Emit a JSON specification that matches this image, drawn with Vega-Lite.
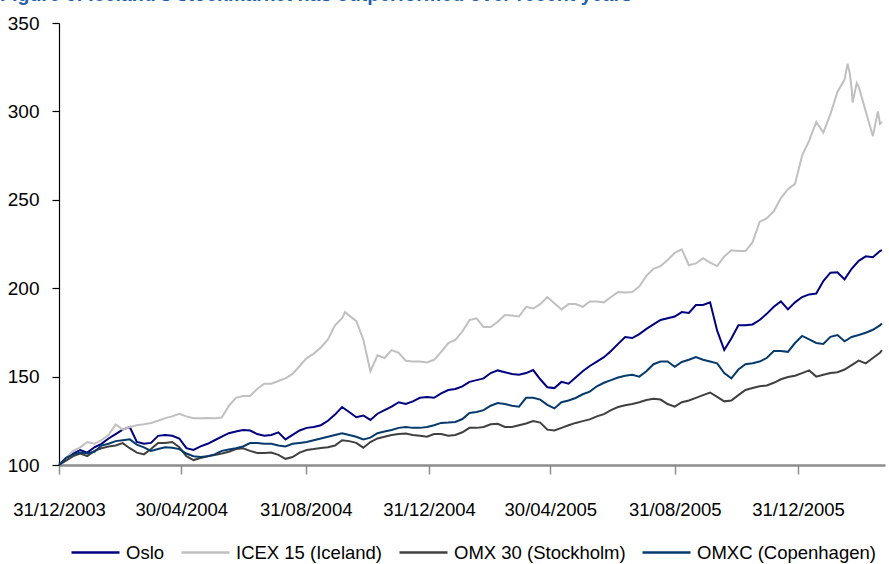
{
  "$schema": "https://vega.github.io/schema/vega-lite/v6.json",
  "width": 826,
  "height": 442,
  "autosize": {"type": "none"},
  "padding": {"left": 59, "top": 23, "right": 4, "bottom": 99},
  "background": "white",
  "title": {
    "text": "Figure 6: Iceland's stockmarket has outperformed over recent years",
    "anchor": "start",
    "frame": "group",
    "font": "Liberation Sans",
    "fontSize": 19.6,
    "fontWeight": "bold",
    "color": "#1F5FAE",
    "baseline": "alphabetic",
    "dx": -59,
    "dy": 13,
    "offset": 6
  },
  "config": {
    "view": {"stroke": null},
    "font": "Liberation Sans, Arial, sans-serif"
  },
  "data": {
    "values": [
      {"date": "2003-12-31", "Oslo": 100, "ICEX": 100, "OMX30": 100, "OMXC": 100},
      {"date": "2004-01-07", "Oslo": 104, "ICEX": 104, "OMX30": 102.5, "OMXC": 104},
      {"date": "2004-01-14", "Oslo": 106.5, "ICEX": 108, "OMX30": 105, "OMXC": 106},
      {"date": "2004-01-21", "Oslo": 108.5, "ICEX": 110, "OMX30": 106.5, "OMXC": 107},
      {"date": "2004-01-28", "Oslo": 107, "ICEX": 113, "OMX30": 105, "OMXC": 106.5},
      {"date": "2004-02-04", "Oslo": 110, "ICEX": 112, "OMX30": 108, "OMXC": 107.5},
      {"date": "2004-02-11", "Oslo": 112, "ICEX": 114, "OMX30": 109.5, "OMXC": 111},
      {"date": "2004-02-18", "Oslo": 115, "ICEX": 117, "OMX30": 110.5, "OMXC": 112},
      {"date": "2004-02-25", "Oslo": 117.5, "ICEX": 123, "OMX30": 111, "OMXC": 113.5},
      {"date": "2004-03-03", "Oslo": 120, "ICEX": 120, "OMX30": 112.4, "OMXC": 114},
      {"date": "2004-03-10", "Oslo": 121.5, "ICEX": 121.5, "OMX30": 109.5, "OMXC": 114.5},
      {"date": "2004-03-17", "Oslo": 113, "ICEX": 122.5, "OMX30": 107, "OMXC": 111.5},
      {"date": "2004-03-24", "Oslo": 112, "ICEX": 123, "OMX30": 106, "OMXC": 110},
      {"date": "2004-03-31", "Oslo": 112.5, "ICEX": 123.8, "OMX30": 109, "OMXC": 108},
      {"date": "2004-04-07", "Oslo": 116.5, "ICEX": 125, "OMX30": 112.5, "OMXC": 109},
      {"date": "2004-04-14", "Oslo": 117, "ICEX": 126.5, "OMX30": 112.4, "OMXC": 110},
      {"date": "2004-04-21", "Oslo": 116.5, "ICEX": 127.5, "OMX30": 113, "OMXC": 109.8},
      {"date": "2004-04-28", "Oslo": 115, "ICEX": 129, "OMX30": 110, "OMXC": 109},
      {"date": "2004-05-05", "Oslo": 109.5, "ICEX": 127.5, "OMX30": 105, "OMXC": 106.5},
      {"date": "2004-05-12", "Oslo": 108.5, "ICEX": 126.5, "OMX30": 102.8, "OMXC": 105},
      {"date": "2004-05-19", "Oslo": 110.5, "ICEX": 126.5, "OMX30": 104, "OMXC": 104.5},
      {"date": "2004-05-26", "Oslo": 112, "ICEX": 126.6, "OMX30": 105, "OMXC": 105},
      {"date": "2004-06-02", "Oslo": 114, "ICEX": 126.5, "OMX30": 105.7, "OMXC": 106},
      {"date": "2004-06-09", "Oslo": 116, "ICEX": 126.8, "OMX30": 106.5, "OMXC": 108},
      {"date": "2004-06-16", "Oslo": 118, "ICEX": 133.5, "OMX30": 107.5, "OMXC": 108.8},
      {"date": "2004-06-23", "Oslo": 119, "ICEX": 138, "OMX30": 109, "OMXC": 109.5},
      {"date": "2004-06-30", "Oslo": 119.8, "ICEX": 139, "OMX30": 109.5, "OMXC": 110.5},
      {"date": "2004-07-07", "Oslo": 119.5, "ICEX": 139, "OMX30": 108, "OMXC": 112.4},
      {"date": "2004-07-14", "Oslo": 117.5, "ICEX": 143, "OMX30": 106.8, "OMXC": 112.4},
      {"date": "2004-07-21", "Oslo": 116.5, "ICEX": 146, "OMX30": 106.8, "OMXC": 112},
      {"date": "2004-07-28", "Oslo": 117, "ICEX": 146, "OMX30": 107, "OMXC": 112},
      {"date": "2004-08-04", "Oslo": 118.5, "ICEX": 147.5, "OMX30": 105.7, "OMXC": 111},
      {"date": "2004-08-11", "Oslo": 114.5, "ICEX": 149, "OMX30": 103.5, "OMXC": 110.5},
      {"date": "2004-08-18", "Oslo": 117, "ICEX": 151.5, "OMX30": 104.5, "OMXC": 112},
      {"date": "2004-08-25", "Oslo": 119.5, "ICEX": 156, "OMX30": 107, "OMXC": 112.5},
      {"date": "2004-09-01", "Oslo": 121, "ICEX": 160.5, "OMX30": 108.5, "OMXC": 113},
      {"date": "2004-09-08", "Oslo": 121.5, "ICEX": 163, "OMX30": 109, "OMXC": 114},
      {"date": "2004-09-15", "Oslo": 122.5, "ICEX": 166.5, "OMX30": 109.6, "OMXC": 115},
      {"date": "2004-09-22", "Oslo": 125, "ICEX": 171, "OMX30": 110, "OMXC": 116},
      {"date": "2004-09-29", "Oslo": 128.5, "ICEX": 179, "OMX30": 111, "OMXC": 117},
      {"date": "2004-10-06", "Oslo": 132.8, "ICEX": 183, "OMX30": 114, "OMXC": 118},
      {"date": "2004-10-09", "ICEX": 186.5},
      {"date": "2004-10-13", "Oslo": 130, "ICEX": 184.5, "OMX30": 113.5, "OMXC": 117},
      {"date": "2004-10-20", "Oslo": 127, "ICEX": 181.5, "OMX30": 112.5, "OMXC": 116},
      {"date": "2004-10-27", "Oslo": 128, "ICEX": 171, "OMX30": 109.8, "OMXC": 114.5},
      {"date": "2004-11-03", "Oslo": 125.5, "ICEX": 153, "OMX30": 113, "OMXC": 115.5},
      {"date": "2004-11-10", "Oslo": 129, "ICEX": 162, "OMX30": 115, "OMXC": 118},
      {"date": "2004-11-17", "Oslo": 131, "ICEX": 160.5, "OMX30": 116, "OMXC": 119},
      {"date": "2004-11-24", "Oslo": 133, "ICEX": 165, "OMX30": 117, "OMXC": 119.8},
      {"date": "2004-12-01", "Oslo": 135.5, "ICEX": 163.5, "OMX30": 117.5, "OMXC": 121},
      {"date": "2004-12-08", "Oslo": 134.5, "ICEX": 159, "OMX30": 117.8, "OMXC": 121.5},
      {"date": "2004-12-15", "Oslo": 136, "ICEX": 158.5, "OMX30": 117, "OMXC": 121},
      {"date": "2004-12-22", "Oslo": 138, "ICEX": 158.5, "OMX30": 116.5, "OMXC": 121},
      {"date": "2004-12-29", "Oslo": 138.5, "ICEX": 158, "OMX30": 116, "OMXC": 121.5},
      {"date": "2005-01-05", "Oslo": 138, "ICEX": 159.5, "OMX30": 117.5, "OMXC": 122.5},
      {"date": "2005-01-12", "Oslo": 140.5, "ICEX": 164, "OMX30": 117.5, "OMXC": 123.8},
      {"date": "2005-01-19", "Oslo": 142.4, "ICEX": 169, "OMX30": 116.5, "OMXC": 124},
      {"date": "2005-01-26", "Oslo": 143, "ICEX": 170.7, "OMX30": 117, "OMXC": 124.3},
      {"date": "2005-02-02", "Oslo": 144.5, "ICEX": 175.5, "OMX30": 118.5, "OMXC": 126},
      {"date": "2005-02-09", "Oslo": 147, "ICEX": 182, "OMX30": 121, "OMXC": 129.4},
      {"date": "2005-02-16", "Oslo": 148, "ICEX": 183, "OMX30": 121, "OMXC": 130},
      {"date": "2005-02-23", "Oslo": 149, "ICEX": 178, "OMX30": 121.5, "OMXC": 131},
      {"date": "2005-03-02", "Oslo": 152, "ICEX": 178, "OMX30": 123, "OMXC": 133.5},
      {"date": "2005-03-09", "Oslo": 153.5, "ICEX": 181, "OMX30": 123.3, "OMXC": 135},
      {"date": "2005-03-16", "Oslo": 152.5, "ICEX": 184.8, "OMX30": 121.5, "OMXC": 134.5},
      {"date": "2005-03-23", "Oslo": 151.5, "ICEX": 184.5, "OMX30": 121.5, "OMXC": 133.5},
      {"date": "2005-03-30", "Oslo": 151, "ICEX": 184, "OMX30": 122.5, "OMXC": 133},
      {"date": "2005-04-06", "Oslo": 152, "ICEX": 189.5, "OMX30": 123.5, "OMXC": 138},
      {"date": "2005-04-13", "Oslo": 153.7, "ICEX": 188.5, "OMX30": 124.9, "OMXC": 138},
      {"date": "2005-04-20", "Oslo": 148.5, "ICEX": 191, "OMX30": 124, "OMXC": 137},
      {"date": "2005-04-27", "Oslo": 144, "ICEX": 195, "OMX30": 120, "OMXC": 134},
      {"date": "2005-05-04", "Oslo": 143.5, "ICEX": 191.5, "OMX30": 119.5, "OMXC": 132},
      {"date": "2005-05-11", "Oslo": 147, "ICEX": 188, "OMX30": 121, "OMXC": 135.5},
      {"date": "2005-05-18", "Oslo": 146, "ICEX": 191, "OMX30": 122.5, "OMXC": 136.5},
      {"date": "2005-05-25", "Oslo": 149.5, "ICEX": 191, "OMX30": 123.8, "OMXC": 137.9},
      {"date": "2005-06-01", "Oslo": 153, "ICEX": 189.5, "OMX30": 124.8, "OMXC": 140},
      {"date": "2005-06-08", "Oslo": 156, "ICEX": 192.5, "OMX30": 125.8, "OMXC": 141.5},
      {"date": "2005-06-15", "Oslo": 158.5, "ICEX": 192.5, "OMX30": 127.5, "OMXC": 144.5},
      {"date": "2005-06-22", "Oslo": 161, "ICEX": 192, "OMX30": 128.8, "OMXC": 146.5},
      {"date": "2005-06-29", "Oslo": 164.5, "ICEX": 195, "OMX30": 131, "OMXC": 148},
      {"date": "2005-07-06", "Oslo": 168.5, "ICEX": 197.8, "OMX30": 132.8, "OMXC": 149.5},
      {"date": "2005-07-13", "Oslo": 172.4, "ICEX": 197.5, "OMX30": 133.8, "OMXC": 150.5},
      {"date": "2005-07-20", "Oslo": 171.8, "ICEX": 197.8, "OMX30": 134.5, "OMXC": 151},
      {"date": "2005-07-27", "Oslo": 174, "ICEX": 201, "OMX30": 135.5, "OMXC": 150},
      {"date": "2005-08-03", "Oslo": 177, "ICEX": 207, "OMX30": 136.8, "OMXC": 153},
      {"date": "2005-08-10", "Oslo": 179.5, "ICEX": 211, "OMX30": 137.5, "OMXC": 157},
      {"date": "2005-08-17", "Oslo": 182, "ICEX": 212.5, "OMX30": 137, "OMXC": 158.5},
      {"date": "2005-08-24", "Oslo": 183, "ICEX": 216, "OMX30": 134.5, "OMXC": 158.5},
      {"date": "2005-08-31", "Oslo": 184, "ICEX": 220, "OMX30": 133, "OMXC": 155.5},
      {"date": "2005-09-07", "Oslo": 186.5, "ICEX": 222, "OMX30": 135.5, "OMXC": 158.3},
      {"date": "2005-09-14", "Oslo": 186, "ICEX": 213, "OMX30": 136.5, "OMXC": 159.5},
      {"date": "2005-09-21", "Oslo": 190.5, "ICEX": 214, "OMX30": 138, "OMXC": 161},
      {"date": "2005-09-28", "Oslo": 190.5, "ICEX": 217, "OMX30": 139.5, "OMXC": 159.5},
      {"date": "2005-10-05", "Oslo": 192, "ICEX": 214.5, "OMX30": 141, "OMXC": 158.5},
      {"date": "2005-10-12", "Oslo": 176, "ICEX": 212.5, "OMX30": 138.5, "OMXC": 157.5},
      {"date": "2005-10-19", "Oslo": 165, "ICEX": 218, "OMX30": 136, "OMXC": 152},
      {"date": "2005-10-26", "Oslo": 171.5, "ICEX": 221.5, "OMX30": 136.5, "OMXC": 149},
      {"date": "2005-11-02", "Oslo": 179, "ICEX": 221, "OMX30": 139.5, "OMXC": 154},
      {"date": "2005-11-09", "Oslo": 179, "ICEX": 221, "OMX30": 142.4, "OMXC": 157},
      {"date": "2005-11-16", "Oslo": 179.5, "ICEX": 226, "OMX30": 143.5, "OMXC": 157.5},
      {"date": "2005-11-23", "Oslo": 182, "ICEX": 237.5, "OMX30": 144.5, "OMXC": 158.5},
      {"date": "2005-11-30", "Oslo": 185.5, "ICEX": 239.5, "OMX30": 145, "OMXC": 160.5},
      {"date": "2005-12-07", "Oslo": 189.5, "ICEX": 243.5, "OMX30": 146.5, "OMXC": 164.5},
      {"date": "2005-12-14", "Oslo": 192.5, "ICEX": 251, "OMX30": 148.5, "OMXC": 164.5},
      {"date": "2005-12-21", "Oslo": 188, "ICEX": 256, "OMX30": 149.8, "OMXC": 164},
      {"date": "2005-12-28", "Oslo": 192, "ICEX": 259, "OMX30": 150.5, "OMXC": 169},
      {"date": "2006-01-04", "Oslo": 195, "ICEX": 275, "OMX30": 152, "OMXC": 173},
      {"date": "2006-01-11", "Oslo": 196.5, "ICEX": 283.5, "OMX30": 153.5, "OMXC": 171},
      {"date": "2006-01-18", "Oslo": 197, "ICEX": 294, "OMX30": 150, "OMXC": 169},
      {"date": "2006-01-25", "Oslo": 204, "ICEX": 288, "OMX30": 151, "OMXC": 168.5},
      {"date": "2006-02-01", "Oslo": 208.8, "ICEX": 298.5, "OMX30": 152, "OMXC": 172.5},
      {"date": "2006-02-08", "Oslo": 209, "ICEX": 311, "OMX30": 152.5, "OMXC": 173.5},
      {"date": "2006-02-15", "Oslo": 205, "ICEX": 318, "OMX30": 154, "OMXC": 170},
      {"date": "2006-02-18", "ICEX": 327},
      {"date": "2006-02-20", "ICEX": 322},
      {"date": "2006-02-22", "Oslo": 211, "ICEX": 313, "OMX30": 156.5, "OMXC": 172.4},
      {"date": "2006-02-23", "ICEX": 305},
      {"date": "2006-02-27", "ICEX": 316},
      {"date": "2006-03-01", "Oslo": 215.5, "ICEX": 314, "OMX30": 159, "OMXC": 173.5},
      {"date": "2006-03-08", "Oslo": 218, "ICEX": 300, "OMX30": 157.5, "OMXC": 174.8},
      {"date": "2006-03-15", "Oslo": 217.5, "ICEX": 286, "OMX30": 160.5, "OMXC": 176.5},
      {"date": "2006-03-20", "ICEX": 300},
      {"date": "2006-03-22", "Oslo": 221, "ICEX": 293, "OMX30": 163.5, "OMXC": 179},
      {"date": "2006-03-24", "Oslo": 221.6, "ICEX": 294, "OMX30": 165, "OMXC": 180}
    ]
  },
  "transform": [
    {"fold": ["Oslo", "ICEX", "OMX30", "OMXC"], "as": ["index", "level"]},
    {"filter": "isValid(datum.level)"}
  ],
  "mark": {"type": "line", "strokeWidth": 2, "interpolate": "linear"},
  "encoding": {
    "x": {
      "field": "date",
      "type": "temporal",
      "scale": {
        "type": "utc",
        "domain": [
          {"year": 2003, "month": 12, "date": 31, "utc": true},
          {"year": 2006, "month": 3, "date": 27, "utc": true}
        ]
      },
      "axis": {
        "title": null,
        "grid": false,
        "values": [
          {"year": 2003, "month": 12, "date": 31, "utc": true},
          {"year": 2004, "month": 4, "date": 30, "utc": true},
          {"year": 2004, "month": 8, "date": 31, "utc": true},
          {"year": 2004, "month": 12, "date": 31, "utc": true},
          {"year": 2005, "month": 4, "date": 30, "utc": true},
          {"year": 2005, "month": 8, "date": 31, "utc": true},
          {"year": 2005, "month": 12, "date": 31, "utc": true}
        ],
        "format": "%d/%m/%Y",
        "labelFlush": false,
        "labelOverlap": false,
        "labelFontSize": 18.5,
        "labelColor": "#000000",
        "labelPadding": 26,
        "domainColor": "#8C8C8C",
        "domainWidth": 2.5,
        "tickColor": "#8C8C8C",
        "tickWidth": 1.5,
        "tickSize": 9
      }
    },
    "y": {
      "field": "level",
      "type": "quantitative",
      "scale": {"domain": [100, 350], "nice": false, "zero": false},
      "axis": {
        "title": null,
        "grid": false,
        "values": [100, 150, 200, 250, 300, 350],
        "labelFontSize": 19,
        "labelColor": "#000000",
        "labelPadding": 13,
        "domainColor": "#000000",
        "domainWidth": 1.2,
        "tickColor": "#000000",
        "tickWidth": 1.2,
        "tickSize": 7
      }
    },
    "color": {
      "field": "index",
      "type": "nominal",
      "scale": {
        "domain": ["Oslo", "ICEX", "OMX30", "OMXC"],
        "range": ["#000080", "#C0C0C0", "#404040", "#063A6C"]
      },
      "legend": {
        "title": null,
        "orient": "none",
        "direction": "horizontal",
        "legendX": 11,
        "legendY": 504,
        "symbolType": "stroke",
        "symbolSize": 2304,
        "symbolStrokeWidth": 2.5,
        "labelFontSize": 18.5,
        "labelColor": "#000000",
        "labelLimit": 400,
        "labelOffset": 5,
        "columnPadding": 11,
        "labelExpr": "{'Oslo': 'Oslo', 'ICEX': 'ICEX 15 (Iceland)', 'OMX30': 'OMX 30 (Stockholm)', 'OMXC': 'OMXC (Copenhagen)'}[datum.label]"
      }
    }
  }
}
